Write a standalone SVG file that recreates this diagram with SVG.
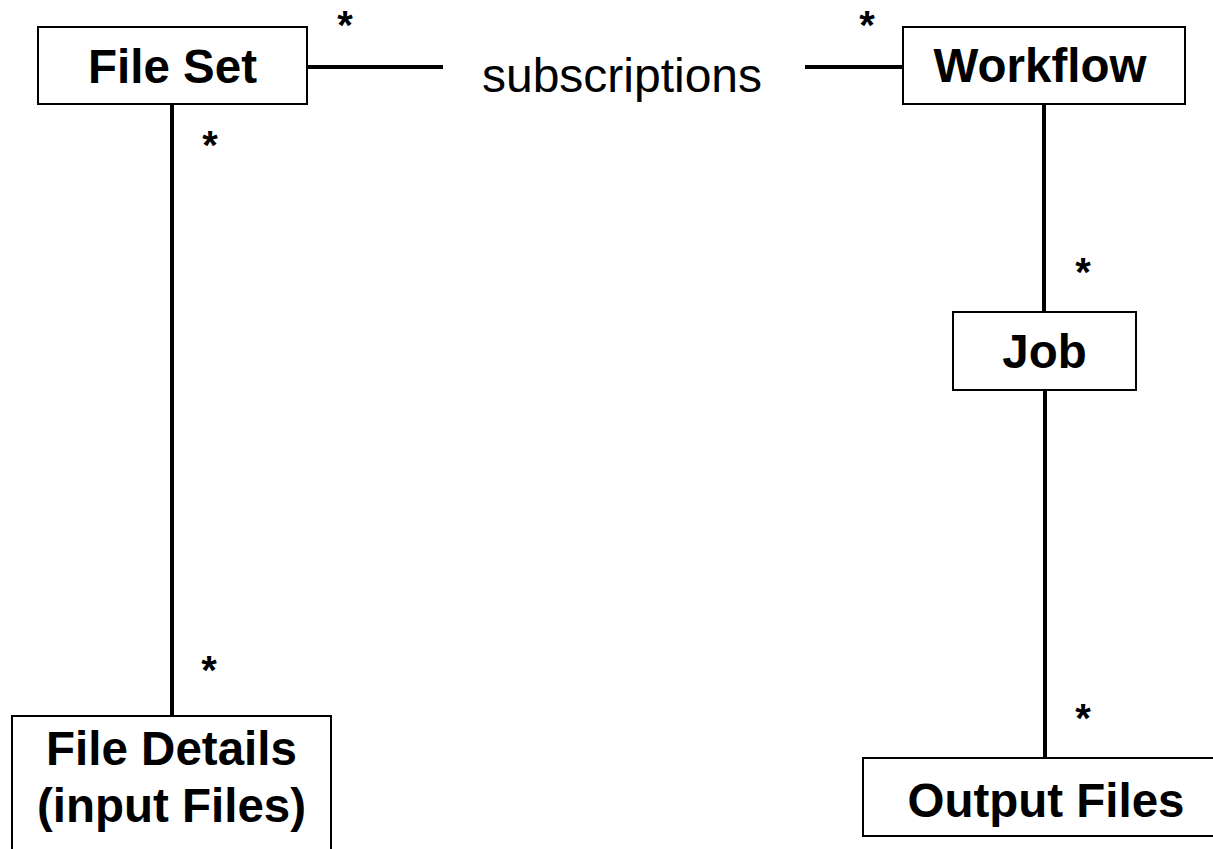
<svg xmlns="http://www.w3.org/2000/svg" width="1213" height="849" viewBox="0 0 1213 849">
  <style>
    .box { fill: #ffffff; stroke: #000000; stroke-width: 2; }
    .name { font-family: "Liberation Sans", Arial, sans-serif; font-weight: bold; font-size: 47.5px; fill: #000000; text-anchor: middle; }
    .label { font-family: "Liberation Sans", Arial, sans-serif; font-size: 48px; fill: #000000; text-anchor: middle; }
    .mult { font-family: "Liberation Sans", Arial, sans-serif; font-weight: bold; font-size: 40px; fill: #000000; text-anchor: middle; }
    .link { stroke: #000000; stroke-width: 4; fill: none; }
  </style>
  <rect width="1213" height="849" fill="#ffffff"/>

  <!-- associations -->
  <g id="connectors">
    <line class="link" x1="307" y1="67" x2="443" y2="67"/>
    <line class="link" x1="805" y1="67" x2="903" y2="67"/>
    <line class="link" x1="172" y1="104" x2="172" y2="716"/>
    <line class="link" x1="1044" y1="104" x2="1044" y2="312"/>
    <line class="link" x1="1045" y1="390" x2="1045" y2="758"/>
    <text class="label" x="622" y="92">subscriptions</text>
    <text class="mult" x="345" y="39">*</text>
    <text class="mult" x="867" y="39">*</text>
    <text class="mult" x="210" y="159">*</text>
    <text class="mult" x="209" y="684">*</text>
    <text class="mult" x="1083" y="286">*</text>
    <text class="mult" x="1083" y="732">*</text>
  </g>

  <g id="file-set">
    <rect class="box" x="38" y="27" width="269" height="77"/>
    <text class="name" x="172.5" y="83">File Set</text>
  </g>

  <g id="workflow">
    <rect class="box" x="903" y="27" width="282" height="77"/>
    <text class="name" x="1040" y="82">Workflow</text>
  </g>

  <g id="job">
    <rect class="box" x="953" y="312" width="183" height="78"/>
    <text class="name" x="1044.5" y="368">Job</text>
  </g>

  <g id="file-details">
    <rect class="box" x="12" y="716" width="319" height="160"/>
    <text class="name" x="171.5" y="765">File Details</text>
    <text class="name" x="171.5" y="822">(input Files)</text>
  </g>

  <g id="output-files">
    <rect class="box" x="863" y="758" width="370" height="78"/>
    <text class="name" x="1046" y="817">Output Files</text>
  </g>
</svg>
